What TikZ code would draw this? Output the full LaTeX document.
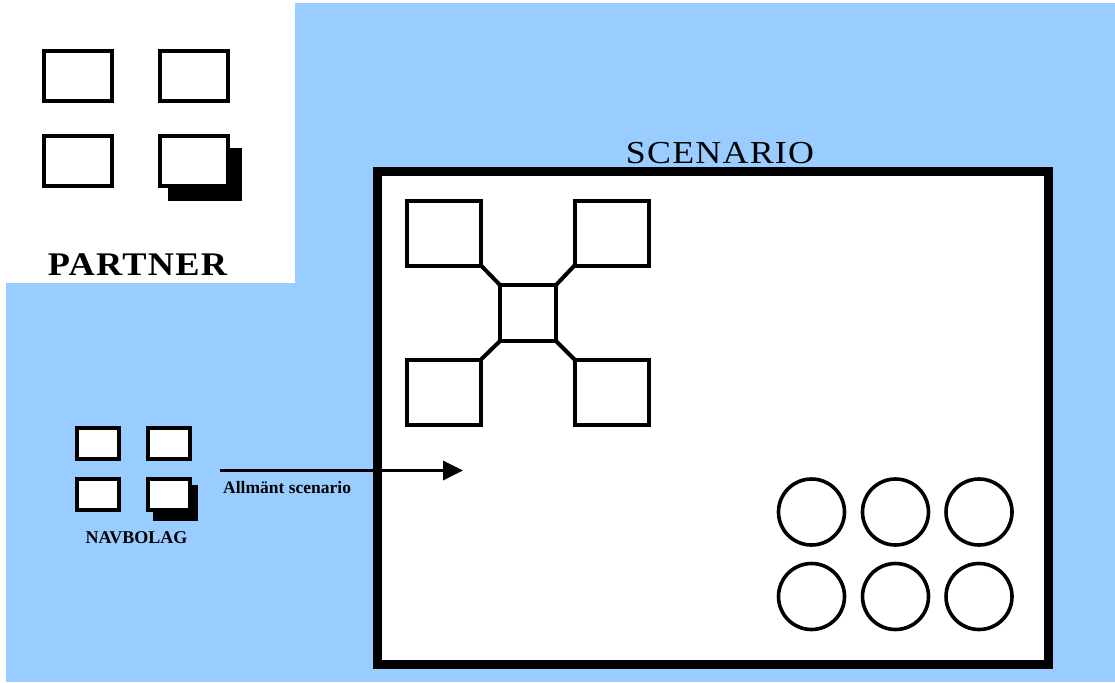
\documentclass[tikz,border=0pt]{standalone}
\usepackage{fontspec}
\setmainfont{Liberation Serif}
\usetikzlibrary{arrows.meta}
\definecolor{skyblue}{HTML}{99CCFF}
\begin{document}
\begin{tikzpicture}[x=1pt,y=-1pt,
  box/.style={draw=black,fill=white,line width=4pt,inner sep=0pt,outer sep=0pt,minimum width=#1},
  pbox/.style={box=68pt,minimum height=50pt},
  nbox/.style={box=42pt,minimum height=31pt},
  xbox/.style={box=74pt,minimum height=65pt},
  ring/.style={draw=black,fill=white,line width=3.6pt,circle,inner sep=0pt,minimum size=66pt},
  link/.style={line width=4pt},
  shade/.style={fill=black},
  lbl/.style={inner sep=0pt,anchor=base}]
\useasboundingbox (0,0) rectangle (1115,682);
% background
\fill[white] (0,0) rectangle (1115,682);
\fill[skyblue] (6,3) rectangle (1115,682);
\fill[white] (0,0) rectangle (295,283);

% PARTNER group
\node[pbox] (p1) at (78,76) {};
\node[pbox] (p2) at (194,76) {};
\node[pbox] (p3) at (78,161) {};
\fill[shade] (168,148) rectangle (242,201);
\node[pbox] (p4) at (194,161) {};
\node[lbl] (partner) at (137.5,275) {\fontsize{33}{33}\selectfont\addfontfeature{FakeStretch=1.1,LetterSpace=4}\bfseries PARTNER};

% NAVBOLAG group
\node[nbox] (n1) at (98,443) {};
\node[nbox] (n2) at (168.5,443) {};
\node[nbox] (n3) at (98,494.5) {};
\fill[shade] (153,485) rectangle (198,521);
\node[nbox] (n4) at (168.5,494.5) {};
\node[lbl] (navbolag) at (136.5,543) {\fontsize{18}{18}\selectfont\bfseries NAVBOLAG};

% SCENARIO frame
\node[draw=black,fill=white,line width=9pt,inner sep=0pt,outer sep=0pt,
      minimum width=671pt,minimum height=493pt] (scen) at (713,418) {};
\node[lbl] (scentitle) at (720,163) {\fontsize{32}{32}\selectfont\addfontfeature{FakeStretch=1.12,LetterSpace=4}SCENARIO};

% cross structure
\node[xbox] (tl) at (444,233) {};
\node[xbox] (tr) at (611.5,233) {};
\node[xbox] (bl) at (444,392) {};
\node[xbox] (br) at (611.5,392) {};
\node[box=56pt,minimum height=56pt] (hub) at (528,313) {};
\draw[link] (tl.south east) -- (hub.north west);
\draw[link] (tr.south west) -- (hub.north east);
\draw[link] (bl.north east) -- (hub.south west);
\draw[link] (br.north west) -- (hub.south east);

% circles
\node[ring] (c1) at (811.5,512) {};
\node[ring] (c2) at (895.5,512) {};
\node[ring] (c3) at (979,512) {};
\node[ring] (c4) at (811.5,596.5) {};
\node[ring] (c5) at (895.5,596.5) {};
\node[ring] (c6) at (979,596.5) {};

% arrow
\coordinate (astart) at (220,470.5);
\coordinate (aend) at (463,470.5);
\draw[line width=3.5pt,-{Triangle[length=20pt,width=19pt]}] (astart) -- (aend);
\node[lbl,anchor=base west] (alabel) at (223,493) {\fontsize{17.5}{17.5}\selectfont\bfseries Allmänt scenario};
\end{tikzpicture}
\end{document}
